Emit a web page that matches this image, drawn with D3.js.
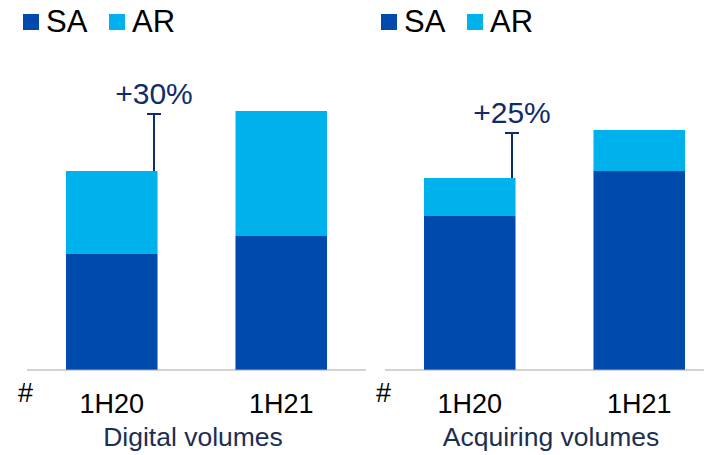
<!DOCTYPE html>
<html>
<head>
<meta charset="utf-8">
<script src="https://cdn.jsdelivr.net/npm/d3@7"></script>
<style>
  body { margin: 0; background: #fff; }
  text { font-family: Arial, "Liberation Sans", sans-serif; }
</style>
</head>
<body>
<svg id="mainSVG"></svg>
<script>
// chart values (arbitrary units)
var periods = ["1H20", "1H21"];
var series = ["SA", "AR"];
var digitalSA = [116, 134];
var digitalAR = [83, 125];
var acquiringSA = [154, 199];
var acquiringAR = [38, 41];
var panelTitles = ["Digital volumes", "Acquiring volumes"];
var growthLabels = ["+30%", "+25%"];

var width = 704;
var height = 455;
var colors = { SA: "#004AAD", AR: "#00B2EB" };
var navy = "#0F2D69";

var svg = d3.select("#mainSVG")
    .attr("width", width)
    .attr("height", height);

// one shared vertical scale, baseline at 370
var y = d3.scaleLinear()
    .domain([0, 259])
    .range([370, 111]);

var panels = [
    { x0: 27, x1: 366, sa: digitalSA, ar: digitalAR, title: panelTitles[0], growth: growthLabels[0] },
    { x0: 385, x1: 704, sa: acquiringSA, ar: acquiringAR, title: panelTitles[1], growth: growthLabels[1] }
];

panels.forEach(function (p) {
    var x = d3.scaleBand()
        .domain(periods)
        .range([p.x0, p.x0 + 339])
        .paddingInner(0.46)
        .paddingOuter(0.23);

    var g = svg.append("g");

    // legend
    series.forEach(function (s, i) {
        var lx = p.x0 - 4 + i * 86;
        g.append("rect")
            .attr("x", lx)
            .attr("y", 14)
            .attr("width", 16)
            .attr("height", 16)
            .attr("fill", colors[s]);
        g.append("text")
            .attr("x", lx + 23)
            .attr("y", 32)
            .attr("font-size", 31)
            .attr("fill", "#000")
            .text(s);
    });

    // stacked bars
    var rows = periods.map(function (d, i) { return { period: d, SA: p.sa[i], AR: p.ar[i] }; });
    var stacked = d3.stack().keys(series)(rows);

    g.selectAll("g.layer")
        .data(stacked)
        .enter()
        .append("g")
        .attr("class", "layer")
        .attr("fill", function (d) { return colors[d.key]; })
        .selectAll("rect")
        .data(function (d) { return d; })
        .enter()
        .append("rect")
        .attr("x", function (d) { return x(d.data.period); })
        .attr("y", function (d) { return y(d[1]); })
        .attr("width", x.bandwidth())
        .attr("height", function (d) { return y(d[0]) - y(d[1]); });

    // baseline
    g.append("line")
        .attr("x1", p.x0)
        .attr("x2", p.x1)
        .attr("y1", y(0))
        .attr("y2", y(0))
        .attr("stroke", "#A6A6A6")
        .attr("stroke-width", 1.2);

    // growth marker on first bar
    var total0 = p.sa[0] + p.ar[0];
    var total1 = p.sa[1] + p.ar[1];
    var ex = x(periods[0]) + x.bandwidth() - 3.5;
    var capY = y(total1) + 3;
    g.append("line")
        .attr("x1", ex).attr("x2", ex)
        .attr("y1", capY).attr("y2", y(total0))
        .attr("stroke", navy)
        .attr("stroke-width", 2);
    g.append("line")
        .attr("x1", ex - 7).attr("x2", ex + 7)
        .attr("y1", capY).attr("y2", capY)
        .attr("stroke", navy)
        .attr("stroke-width", 2);
    g.append("text")
        .attr("x", ex)
        .attr("y", capY - 10)
        .attr("text-anchor", "middle")
        .attr("font-size", 30)
        .attr("fill", navy)
        .text(p.growth);

    // category labels
    g.selectAll("text.cat")
        .data(periods)
        .enter()
        .append("text")
        .attr("class", "cat")
        .attr("x", function (d) { return x(d) + x.bandwidth() / 2; })
        .attr("y", 413)
        .attr("text-anchor", "middle")
        .attr("font-size", 27)
        .attr("fill", "#000")
        .text(function (d) { return d; });

    g.append("text")
        .attr("x", p.x0 - 9)
        .attr("y", 402)
        .attr("font-size", 27)
        .attr("fill", "#000")
        .text("#");

    g.append("text")
        .attr("x", p.x0 + 166)
        .attr("y", 446)
        .attr("text-anchor", "middle")
        .attr("font-size", 26.5)
        .attr("fill", "#1C2F52")
        .text(p.title);
});
</script>
</body>
</html>
